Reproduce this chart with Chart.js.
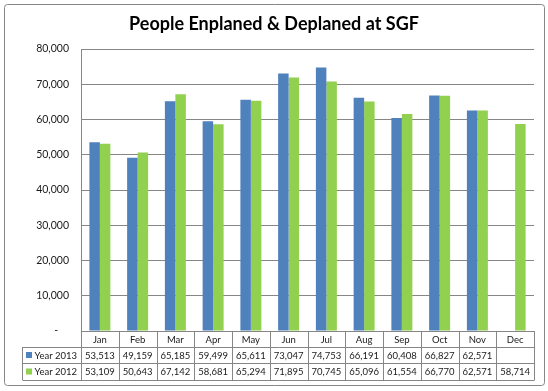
<!DOCTYPE html>
<html>
<head>
<meta charset="utf-8">
<script src="https://cdn.jsdelivr.net/npm/chart.js@4"></script>
<style>
  html, body { margin: 0; padding: 0; background: #fff; }
  canvas { display: block; }
</style>
</head>
<body>
<canvas id="chart" width="548" height="391"></canvas>
<script>
const titleText = 'People Enplaned & Deplaned at SGF';
const months = ['Jan', 'Feb', 'Mar', 'Apr', 'May', 'Jun', 'Jul', 'Aug', 'Sep', 'Oct', 'Nov', 'Dec'];
const year2013 = [53513, 49159, 65185, 59499, 65611, 73047, 74753, 66191, 60408, 66827, 62571, null];
const year2012 = [53109, 50643, 67142, 58681, 65294, 71895, 70745, 65096, 61554, 66770, 62571, 58714];
const seriesNames = ['Year 2013', 'Year 2012'];
const seriesColors = ['#4F81BD', '#92D050'];

const lineColor = '#868686';
const textColor = '#1a1a1a';

function fmt(v) {
  return v == null ? '' : v.toLocaleString('en-US');
}

// white page, outer frame and title
const framePlugin = {
  id: 'frame',
  beforeDraw(chart) {
    const ctx = chart.ctx;
    ctx.save();
    ctx.fillStyle = '#fff';
    ctx.fillRect(0, 0, chart.width, chart.height);
    ctx.restore();
  },
  afterDraw(chart) {
    const ctx = chart.ctx;
    ctx.save();
    ctx.strokeStyle = lineColor;
    ctx.lineWidth = 1;
    ctx.beginPath();
    ctx.roundRect(4.5, 4.5, 540, 381, 3);
    ctx.stroke();
    ctx.fillStyle = '#000';
    ctx.font = 'bold 18px Lato';
    ctx.textAlign = 'center';
    ctx.textBaseline = 'alphabetic';
    ctx.fillText(titleText, 274, 30);
    ctx.restore();
  }
};

// Excel style data table under the plot
const tablePlugin = {
  id: 'dataTable',
  afterDraw(chart) {
    const ctx = chart.ctx;
    const x = chart.scales.x;
    const area = chart.chartArea;
    const colW = (area.right - area.left) / months.length;
    const top = area.bottom;
    const rowH = [16, 16, 17];
    const r1 = top + rowH[0], r2 = r1 + rowH[1], r3 = r2 + rowH[2];
    const legLeft = 22.5;

    ctx.save();
    ctx.strokeStyle = lineColor;
    ctx.lineWidth = 1;
    ctx.beginPath();
    for (let i = 0; i <= months.length; i++) {
      const px = Math.round(area.left + i * colW) + 0.5;
      ctx.moveTo(px, top);
      ctx.lineTo(px, r3);
    }
    ctx.moveTo(legLeft, r1);
    ctx.lineTo(legLeft, r3);
    [r1, r2, r3].forEach(y => {
      ctx.moveTo(legLeft, Math.round(y) + 0.5);
      ctx.lineTo(Math.round(area.right) + 0.5, Math.round(y) + 0.5);
    });
    ctx.stroke();

    ctx.fillStyle = textColor;
    ctx.textAlign = 'center';
    ctx.textBaseline = 'middle';
    ctx.font = '9.5px Lato';
    months.forEach((m, i) => {
      const cx = x.getPixelForValue(i);
      ctx.fillText(m, cx, top + rowH[0] / 2 + 0.5);
      ctx.fillText(fmt(year2013[i]), cx, r1 + rowH[1] / 2 + 0.5);
      ctx.fillText(fmt(year2012[i]), cx, r2 + rowH[2] / 2 + 0.5);
    });

    // legend keys
    ctx.textAlign = 'left';
    [r1, r2].forEach((ry, k) => {
      const cy = ry + rowH[k + 1] / 2;
      ctx.fillStyle = seriesColors[k];
      ctx.fillRect(26, cy - 3, 6, 6);
      ctx.fillStyle = textColor;
      ctx.fillText(seriesNames[k], 34.5, cy + 0.5);
    });
    ctx.restore();
  }
};

new Chart(document.getElementById('chart'), {
  type: 'bar',
  data: {
    labels: months,
    datasets: [
      { label: seriesNames[0], data: year2013, backgroundColor: seriesColors[0], borderWidth: 0 },
      { label: seriesNames[1], data: year2012, backgroundColor: seriesColors[1], borderWidth: 0 }
    ]
  },
  options: {
    responsive: false,
    animation: false,
    devicePixelRatio: 1,
    layout: { padding: { top: 49, bottom: 60, right: 14, left: 0 } },
    datasets: { bar: { categoryPercentage: 0.556, barPercentage: 1 } },
    plugins: {
      legend: { display: false },
      title: { display: false },
      tooltip: { enabled: false }
    },
    scales: {
      x: { display: false },
      y: {
        min: 0,
        max: 80000,
        afterFit(scale) { scale.width = 81; },
        ticks: {
          stepSize: 10000,
          padding: 12,
          color: textColor,
          font: { family: 'Lato', size: 10.5 },
          callback: v => v === 0 ? '-    ' : fmt(v)
        },
        grid: { color: lineColor, drawTicks: false },
        border: { display: true, color: lineColor }
      }
    }
  },
  plugins: [framePlugin, tablePlugin]
});
</script>
</body>
</html>
